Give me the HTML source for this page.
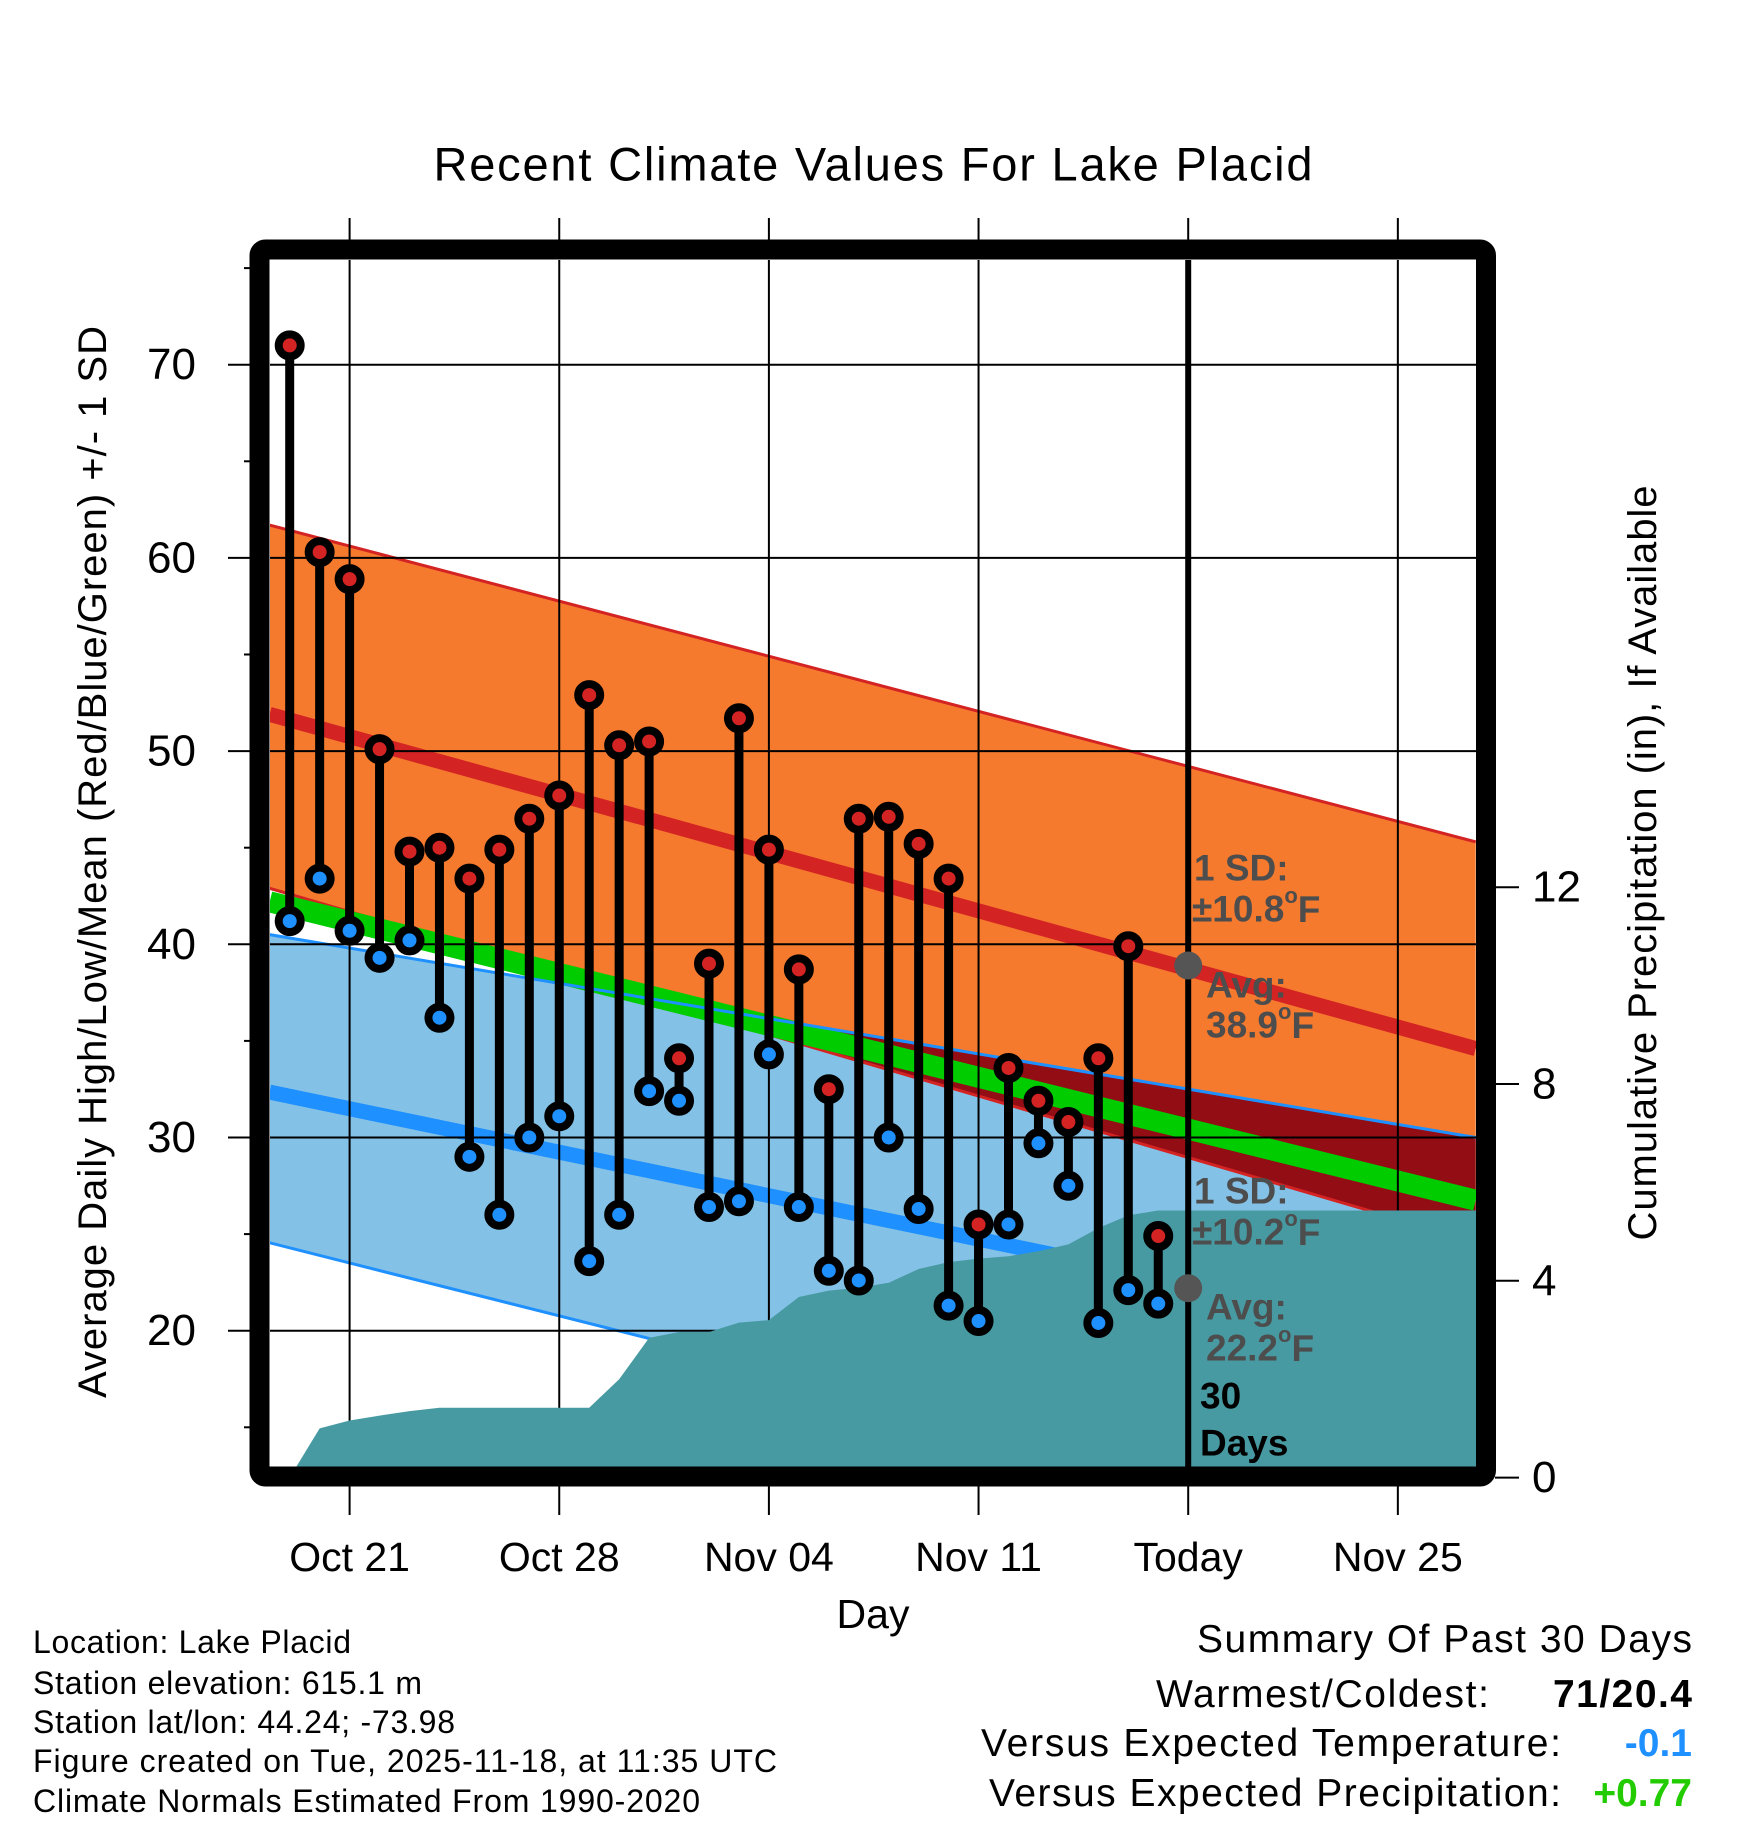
<!DOCTYPE html>
<html><head><meta charset="utf-8"><style>
html,body{margin:0;padding:0;background:#fff;}
svg{display:block;font-family:"Liberation Sans",sans-serif;}
</style></head><body>
<svg id="chart" width="1748" height="1828" viewBox="0 0 1748 1828" xmlns="http://www.w3.org/2000/svg">
<defs><clipPath id="plotclip"><rect x="270" y="260" width="1206" height="1207"/></clipPath></defs>
<g id="plot" clip-path="url(#plotclip)"></g>
<g id="over"></g>
</svg>
<script>
// ---- data ----
const dayOffsets = [-2,-1,0,1,2,3,4,5,6,7,8,9,10,11,12,13,14,15,16,17,18,19,20,21,22,23,24,25,26,27];
const highs = [71,60.3,58.9,50.1,44.8,45.0,43.4,44.9,46.5,47.7,52.9,50.3,50.5,34.1,39.0,51.7,44.9,38.7,32.5,46.5,46.6,45.2,43.4,25.5,33.6,31.9,30.8,34.1,39.9,24.9];
const lows = [41.2,43.4,40.7,39.3,40.2,36.2,29.0,26.0,30.0,31.1,23.6,26.0,32.4,31.9,26.4,26.7,34.3,26.4,23.1,22.6,30.0,26.3,21.3,20.5,25.5,29.7,27.5,20.4,22.1,21.4];
const precip = [0,1.0,1.16,1.26,1.35,1.42,1.42,1.42,1.42,1.42,1.42,2.0,2.84,2.96,2.96,3.15,3.2,3.67,3.8,3.86,3.96,4.24,4.38,4.45,4.5,4.6,4.74,5.07,5.33,5.43];
// normals at left edge / right edge of plot
const normalDays = [-2.67, 37.6];
const sdHighTop = [61.7, 45.3];
const meanHigh = [51.9, 34.6];
const sdHighBottom = [42.9, 24.6];
const overallMean = [42.2, 26.75];
const sdLowTop = [40.5, 30.0];
const meanLow = [32.35, 19.4];
const sdLowBottom = [24.55, 8.8];
const xTickDays = [0,7,14,21,28,35];
const xTickLabels = ["Oct 21","Oct 28","Nov 04","Nov 11","Today","Nov 25"];
const yTicks = [20,30,40,50,60,70];
const yMinor = [15,25,35,45,55,65,75];
const pTicks = [0,4,8,12];
const todayDay = 28;
const todayHighAvg = 38.9, todayLowAvg = 22.2;

// ---- axes ----
const X = d => 349.6 + d*29.95;
const Y = v => 364.7 + (70 - v)*19.32;
const P = v => 1477.6 - v*49.2;
const NS = "http://www.w3.org/2000/svg";
function mk(tag, attrs, parent){const e=document.createElementNS(NS,tag);for(const k in attrs)e.setAttribute(k,attrs[k]);parent.appendChild(e);return e;}
const plot=document.getElementById('plot'), over=document.getElementById('over');
const lin=(arr,d)=>arr[0]+(arr[1]-arr[0])*(d-normalDays[0])/(normalDays[1]-normalDays[0]);
const x0=normalDays[0], x1=normalDays[1];
function band(top,bot,fill,name){
  const pts=[[X(x0),Y(top[0])],[X(x1),Y(top[1])],[X(x1),Y(bot[1])],[X(x0),Y(bot[0])]];
  const e=mk('polygon',{points:pts.map(p=>p.join(',')).join(' '),fill:fill},plot);
  
  
}
function line(arr,color,w,name){
  const e=mk('line',{x1:X(x0),y1:Y(arr[0]),x2:X(x1),y2:Y(arr[1]),stroke:color,'stroke-width':w},plot);
  
  
}
band(sdLowTop,sdLowBottom,'#84c1e6','low-sd-band');
band(sdHighTop,sdHighBottom,'#f57a2e','high-sd-band');
// overlap region
{
  const a0=sdLowTop[0]-sdHighBottom[0], a1=sdLowTop[1]-sdHighBottom[1];
  const t=a0/(a0-a1); const dc=x0+t*(x1-x0);
  const pts=[[X(dc),Y(lin(sdLowTop,dc))],[X(x1),Y(sdLowTop[1])],[X(x1),Y(sdHighBottom[1])]];
  const e=mk('polygon',{points:pts.map(p=>p.join(',')).join(' '),fill:'#930d15'},plot);
  
  
}
line(sdHighTop,'#d42323',3,'high-sd-top-line');
line(sdHighBottom,'#d42323',3,'high-sd-bottom-line');
line(sdLowBottom,'#1e90ff',3,'low-sd-bottom-line');
line(meanHigh,'#d42323',15,'mean-high-line');
line(meanLow,'#1e90ff',15,'mean-low-line');
line(overallMean,'#00cc00',21,'overall-mean-band');
line(sdLowTop,'#1e90ff',3,'low-sd-top-line');
// gridlines
yTicks.forEach(v=>{const e=mk('line',{x1:270,x2:1476,y1:Y(v),y2:Y(v),stroke:'#000','stroke-width':2},plot);
  
  });
xTickDays.forEach(d=>{const e=mk('line',{x1:X(d),x2:X(d),y1:260,y2:1467,stroke:'#000','stroke-width':2},plot);
  
  });
// precipitation area
{
  let pts=[[X(dayOffsets[0]),P(0)]];
  dayOffsets.forEach((d,i)=>pts.push([X(d),P(precip[i])]));
  pts.push([X(x1)+5,P(precip[precip.length-1])]);
  pts.push([X(x1)+5,P(0)+10]);pts.push([X(dayOffsets[0]),P(0)+10]);
  const e=mk('polygon',{points:pts.map(p=>p.join(',')).join(' '),fill:'#479aa2'},plot);
  
  
}
// today line
{const e=mk('line',{x1:X(todayDay),x2:X(todayDay),y1:260,y2:1467,stroke:'#000','stroke-width':6},plot);
 
 }
// gray avg dots
[todayHighAvg,todayLowAvg].forEach(v=>{const e=mk('circle',{cx:X(todayDay),cy:Y(v),r:14,fill:'#555'},plot);
  
  });
// stems and points
dayOffsets.forEach((d,i)=>{
  const s=mk('line',{x1:X(d),x2:X(d),y1:Y(highs[i]),y2:Y(lows[i]),stroke:'#000','stroke-width':9},plot);
  
  
});
dayOffsets.forEach((d,i)=>{
  const h=mk('circle',{cx:X(d),cy:Y(highs[i]),r:11,fill:'#d42323',stroke:'#000','stroke-width':8},plot);
  
  
  const l=mk('circle',{cx:X(d),cy:Y(lows[i]),r:11,fill:'#1e90ff',stroke:'#000','stroke-width':8},plot);
  
  
});
// annotations
function txt(x,y,str,opts,parent,name){
  const e=mk('text',Object.assign({x:x,y:y,'dominant-baseline':'central'},opts||{}),parent||over);
  e.innerHTML=str;
  
  
  return e;
}
const ann={'font-size':37,'font-weight':'bold',fill:'#4d4d4d'};
const deg='<tspan font-size="22" dy="-14">o</tspan><tspan dy="14">F</tspan>';
txt(1194,868,'1 SD:',ann,over,'high-sd-label');
txt(1192,909,'±10.8'+deg,ann,over,'high-sd-value');
txt(1206,985,'Avg:',ann,over,'high-avg-label');
txt(1206,1025,'38.9'+deg,ann,over,'high-avg-value');
txt(1194,1191,'1 SD:',ann,over,'low-sd-label');
txt(1192,1232,'±10.2'+deg,ann,over,'low-sd-value');
txt(1206,1307,'Avg:',ann,over,'low-avg-label');
txt(1206,1348,'22.2'+deg,ann,over,'low-avg-value');
txt(1200,1396,'30',{'font-size':37,'font-weight':'bold',fill:'#000'},over,'days-count');
txt(1200,1443,'Days',{'font-size':37,'font-weight':'bold',fill:'#000'},over,'days-label');
// frame
{const e=mk('rect',{x:259.5,y:249.5,width:1226.5,height:1227,fill:'none',stroke:'#000','stroke-width':20,rx:6},over);
 
 }
// ticks
yTicks.forEach(v=>{const e=mk('line',{x1:228,x2:250,y1:Y(v),y2:Y(v),stroke:'#000','stroke-width':2},over);
  
  
  txt(196,Y(v),String(v),{'font-size':44,'text-anchor':'end'},over,'y-tick-label');});
yMinor.forEach(v=>{const e=mk('line',{x1:244,x2:250,y1:Y(v),y2:Y(v),stroke:'#000','stroke-width':2},over);
  
  });
xTickDays.forEach((d,i)=>{
  const a=mk('line',{x1:X(d),x2:X(d),y1:218,y2:240,stroke:'#000','stroke-width':2},over);
  
  
  const b=mk('line',{x1:X(d),x2:X(d),y1:1486,y2:1515,stroke:'#000','stroke-width':2},over);
  
  
  txt(X(d),1557,xTickLabels[i],{'font-size':41,'text-anchor':'middle'},over,'x-tick-label');
});
pTicks.forEach(v=>{const e=mk('line',{x1:1495,x2:1519,y1:P(v),y2:P(v),stroke:'#000','stroke-width':2},over);
  
  
  txt(1532,P(v),String(v),{'font-size':44,'text-anchor':'start'},over,'precip-tick-label');});
// titles
txt(873,164,'Recent Climate Values For Lake Placid',{'font-size':47,'text-anchor':'middle',textLength:879},over,'chart-title');
txt(873,1614,'Day',{'font-size':41,'text-anchor':'middle'},over,'x-axis-title');
txt(0,0,'Average Daily High/Low/Mean (Red/Blue/Green) +/- 1 SD',{'font-size':40,'text-anchor':'middle',textLength:1072,transform:'translate(93,862) rotate(-90)'},over,'y-axis-title');
txt(0,0,'Cumulative Precipitation (in), If Available',{'font-size':40,'text-anchor':'middle',textLength:755,transform:'translate(1643,863) rotate(-90)'},over,'precip-axis-title');
// footnotes
const fn=['Location: Lake Placid','Station elevation: 615.1 m','Station lat/lon: 44.24; -73.98','Figure created on Tue, 2025-11-18, at 11:35 UTC','Climate Normals Estimated From 1990-2020'];
const fnY=[1653,1694,1733,1772,1812];
const fnW=[318,389,422,744,667];
fn.forEach((s,i)=>{const e=mk('text',{x:33,y:fnY[i],'font-size':32,textLength:fnW[i]},over);e.textContent=s;
  
  });
function rt(x,y,s,opts,name){const e=mk('text',Object.assign({x:x,y:y,'text-anchor':'end'},opts),over);e.textContent=s;
  
  }
rt(1692,1652,'Summary Of Past 30 Days',{'font-size':39,textLength:495},'summary-title');
rt(1489,1707,'Warmest/Coldest:',{'font-size':39,textLength:333},'warmest-coldest-label');
rt(1692,1707,'71/20.4',{'font-size':39,'font-weight':'bold',textLength:139},'warmest-coldest-value');
rt(1561,1756,'Versus Expected Temperature:',{'font-size':39,textLength:580},'temp-departure-label');
rt(1692,1756,'-0.1',{'font-size':39,'font-weight':'bold',fill:'#1e90ff'},'temp-departure-value');
rt(1561,1806,'Versus Expected Precipitation:',{'font-size':39,textLength:572},'precip-departure-label');
rt(1692,1806,'+0.77',{'font-size':39,'font-weight':'bold',fill:'#22cc00'},'precip-departure-value');
</script>
</body></html>
